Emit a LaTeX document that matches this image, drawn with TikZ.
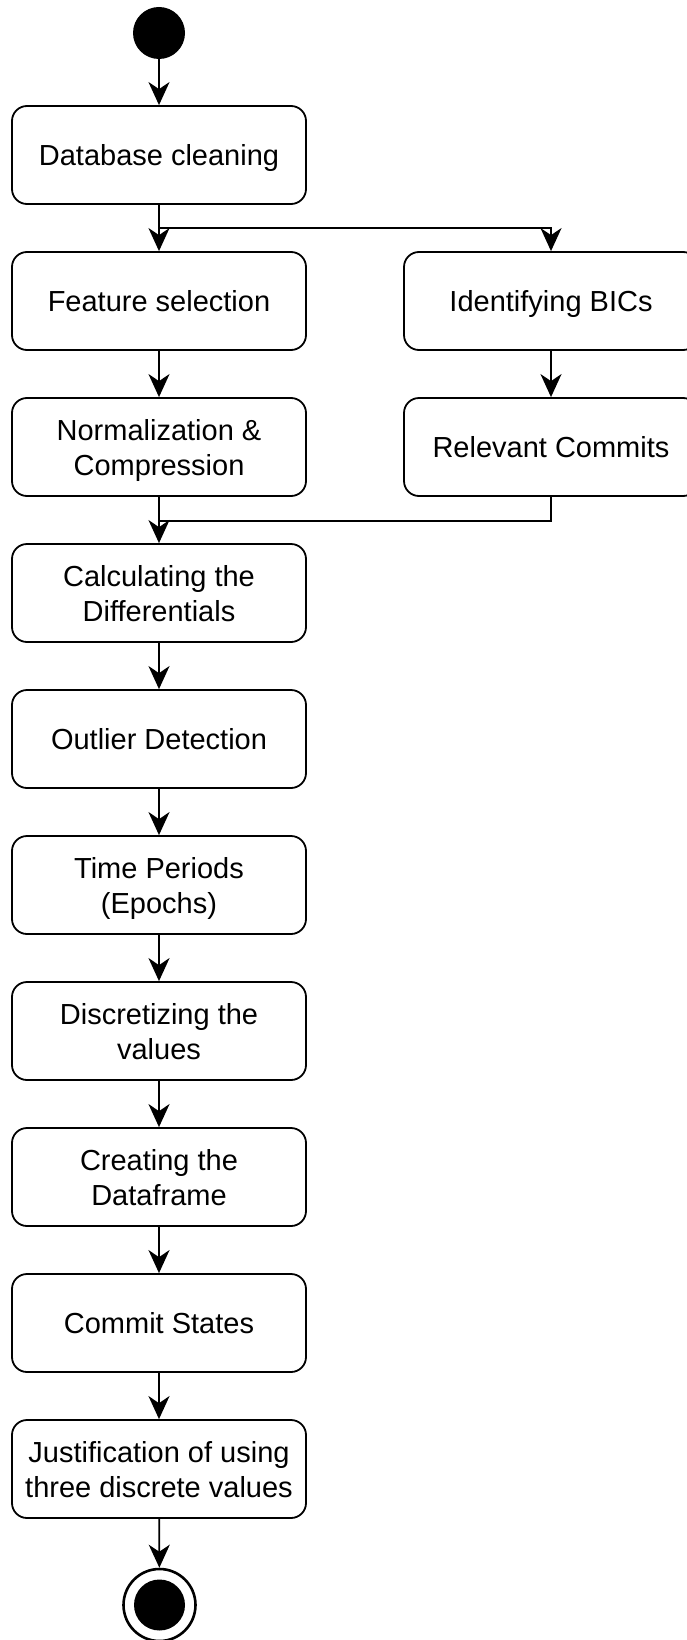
\documentclass[tikz,border=0pt]{standalone}
\usepackage{fontspec}
\setmainfont{Liberation Sans}
\usetikzlibrary{arrows.meta}
\begin{document}
\begin{tikzpicture}[x=1pt,y=-1pt,
  stepbox/.style={draw=black, line width=1.8pt, rounded corners=15pt, fill=white,
    minimum width=294pt, minimum height=98pt, inner sep=0pt, align=center,
    text depth=0pt, font=\fontsize{29pt}{35pt}\selectfont},
  conn/.style={draw=black, line width=1.8pt},
  arr/.style={conn, -{Stealth[length=23pt,width=21pt,inset=7pt]}}
]
\useasboundingbox (0,0) rectangle (687,1640);
\fill[white] (0,0) rectangle (687,1640);

\node[circle, fill=black, minimum size=52pt, inner sep=0pt] (start) at (159,33) {};

\node[stepbox] (db)    at (159,155)  {Database cleaning};
\node[stepbox] (fs)    at (159,301)  {Feature selection};
\node[stepbox] (bic)   at (551,301) {Identifying BICs};
\node[stepbox] (norm)  at (159,447)  {Normalization \&\\Compression};
\node[stepbox] (rel)   at (551,447) {Relevant Commits};
\node[stepbox] (calc)  at (159,593)  {Calculating the\\Differentials};
\node[stepbox] (outl)  at (159,739)  {Outlier Detection};
\node[stepbox] (epoch) at (159,885)  {Time Periods\\(Epochs)};
\node[stepbox] (disc)  at (159,1031) {Discretizing the\\values};
\node[stepbox] (frame) at (159,1177) {Creating the\\Dataframe};
\node[stepbox] (states) at (159,1323) {Commit States};
\node[stepbox] (just)  at (159,1469) {Justification of using\\three discrete values};

\node[circle, draw=black, line width=2.6pt, fill=white, minimum size=72pt, inner sep=0pt] (stop) at (159.5,1605) {};
\node[circle, fill=black, minimum size=51pt, inner sep=0pt] (stopin) at (stop.center) {};

\coordinate (split) at (159,228);
\coordinate (merge) at (159,521);

\draw[arr] (start) -- (db);
\draw[arr] (db.south) -- (fs.north);
\draw[arr] (split) -| (bic.north);
\draw[arr] (fs) -- (norm);
\draw[arr] (bic) -- (rel);
\draw[conn] (rel.south) |- (merge);
\draw[arr] (norm) -- (calc);
\draw[arr] (calc) -- (outl);
\draw[arr] (outl) -- (epoch);
\draw[arr] (epoch) -- (disc);
\draw[arr] (disc) -- (frame);
\draw[arr] (frame) -- (states);
\draw[arr] (states) -- (just);
\draw[arr] (just) -- (stop);
\end{tikzpicture}
\end{document}
